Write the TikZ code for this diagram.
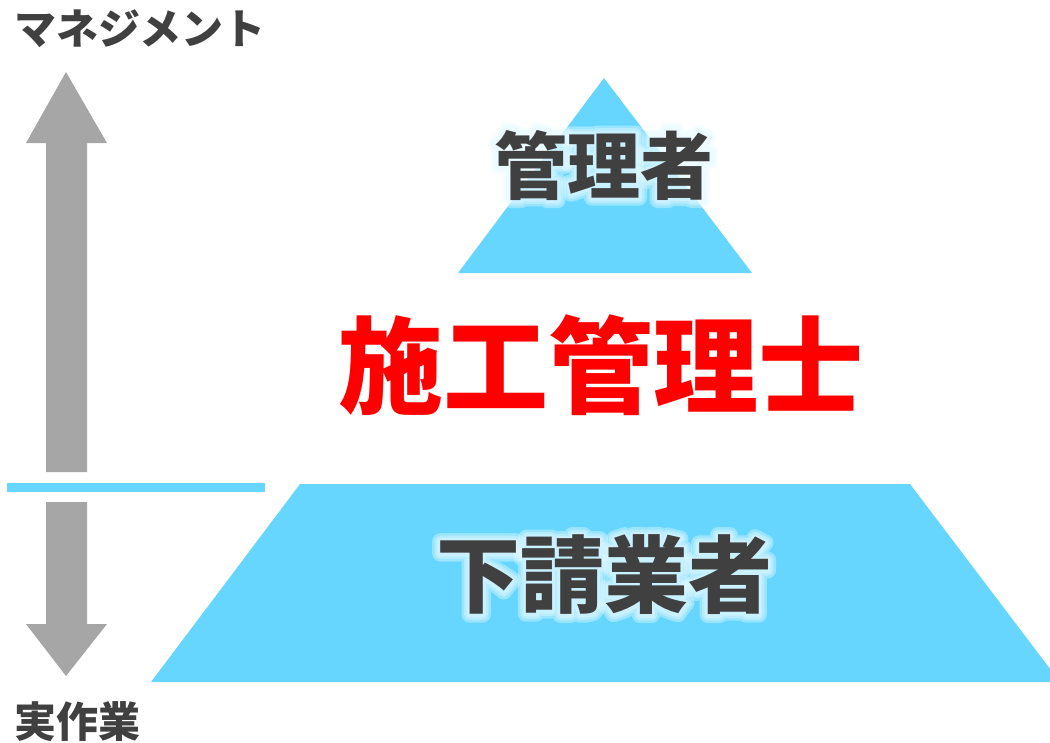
\documentclass[tikz,border=0pt]{standalone}
\usepackage{fontspec}
\newfontfamily\jp{Noto Sans CJK JP}
\definecolor{sky}{HTML}{66D6FF}
\definecolor{arrowgray}{HTML}{A6A6A6}
\definecolor{ink}{HTML}{404040}
\definecolor{glow}{HTML}{E6FAFF}
\newcommand\strokeon[1]{\special{pdf:literal direct 1 Tr #1 w 1 j 1 J}}
\newcommand\strokeoff{\special{pdf:literal direct 0 Tr}}
\begin{document}
\begin{tikzpicture}[x=1pt,y=-1pt,
  lbl/.style={text=ink, inner sep=0pt},
  glowlbl/.style={text=glow, inner sep=0pt, text opacity=0.4},
  sz/.style={font=\jp\bfseries\fontsize{#1}{#1}\selectfont}]
\useasboundingbox (0,0) rectangle (1050,742);
% pyramid shapes
\fill[sky] (604,78) -- (752,273) -- (458,273) -- cycle;
\begin{scope}
  \clip (0,0) rectangle (1050,742);
  \fill[sky] (300,484) -- (910,484) -- (1060,682) -- (151,682) -- cycle;
\end{scope}
% divider line
\fill[sky] (7,483) rectangle (265,492);
% arrows
\fill[arrowgray] (66,72) -- (107,143) -- (87,143) -- (87,472) -- (46,472) -- (46,143) -- (26,143) -- cycle;
\fill[arrowgray] (46,502) -- (87,502) -- (87,624) -- (107,624) -- (66,676) -- (26,624) -- (46,624) -- cycle;
% labels
\node[lbl, sz=42] (mgmt) at (140,29) {マネジメント};
\node[lbl, sz=42] (work) at (77,722) {実作業};
% soft glows behind the pyramid labels
\foreach \w in {16,11,6}{
  \node[glowlbl, sz=73] at (604,165) {\strokeon{\w}管理者\strokeoff};
  \node[glowlbl, sz=84] at (604,575) {\strokeon{\w}下請業者\strokeoff};
}
\node[lbl, sz=73] (top) at (604,165) {管理者};
\node[inner sep=0pt, text=red, sz=105] (mid) at (601,365) {施工管理士};
\node[lbl, sz=84] (bottom) at (604,575) {下請業者};
\end{tikzpicture}
\end{document}
